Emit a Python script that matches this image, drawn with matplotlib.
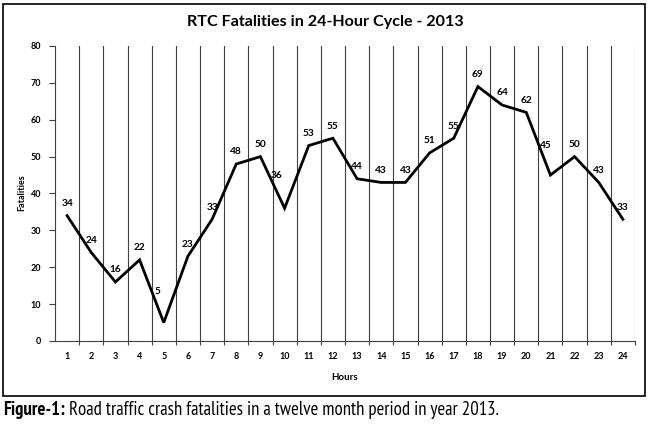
import matplotlib
matplotlib.use("Agg")
import matplotlib.pyplot as plt
from matplotlib.patches import Rectangle
import numpy as np

hours = list(range(1, 25))
fatalities = [34, 24, 16, 22, 5, 23, 33, 48, 50, 36, 53, 55, 44, 43, 43, 51, 55, 69, 64, 62, 45, 50, 43, 33]
yticks = [0, 10, 20, 30, 40, 50, 60, 70, 80]
title = "RTC Fatalities in 24-Hour Cycle - 2013"
xlabel = "Hours"
ylabel = "Fatalities"
caption_bold = "Figure-1:"
caption_text = "Road traffic crash fatalities in a twelve month period in year 2013."

# label offsets in pixels (dx, dy) for special labels
label_offsets = {5: (-6, 31), 10: (-8, 33), 21: (-5, 30)}

FONT = "Lato"
CAP_FONT = ["PT Sans Narrow", "DejaVu Sans"]
W, H = 650, 424
fig = plt.figure(figsize=(W / 100, H / 100), dpi=100)

fig.patches.append(Rectangle((3 / W, 1 - 396 / H), 642 / W, 392 / H, transform=fig.transFigure,
                             fill=False, edgecolor="black", linewidth=1.2))

ax = fig.add_axes([55 / W, 1 - 341 / H, 580 / W, 295 / H])
ax.plot(hours, fatalities, color="black", linewidth=2.0, solid_joinstyle="miter")
ax.set_xlim(0.5, 24.5)
ax.set_ylim(0, 80)
ax.set_yticks(yticks)
ax.set_xticks(hours)
ax.set_xticks(np.arange(1.5, 24.6, 1), minor=True)
for xb in np.arange(1.5, 24.6, 1):
    ax.axvline(xb, color="#404040", linewidth=0.8, zorder=0)
ax.tick_params(axis="x", which="major", length=0, pad=8)
ax.tick_params(axis="x", which="minor", length=3, color="#404040", width=0.8)
ax.tick_params(axis="y", length=4, color="#404040", width=0.8, pad=6)
for lab in ax.get_xticklabels() + ax.get_yticklabels():
    lab.set_fontfamily(FONT)
    lab.set_fontweight("bold")
    lab.set_fontsize(6.5)
for s in ["top", "right"]:
    ax.spines[s].set_visible(False)
for s in ["left", "bottom"]:
    ax.spines[s].set_color("#404040")
    ax.spines[s].set_linewidth(0.8)

for h, v in zip(hours, fatalities):
    dx, dy = label_offsets.get(h, (0, 12))
    ax.annotate(str(v), (h, v), xytext=(dx, dy), textcoords="offset pixels",
                ha="center", va="center", fontsize=7.3, fontweight="bold", fontfamily=FONT)

fig.text(325 / W, 1 - 22 / H, title, ha="center", va="center", fontsize=11.6,
         fontweight="bold", fontfamily=FONT)
fig.text(345 / W, 1 - 377 / H, xlabel, ha="center", va="center", fontsize=7,
         fontweight="bold", fontfamily=FONT)
fig.text(22 / W, 1 - 193 / H, ylabel, ha="center", va="center", rotation=90, fontsize=6.5,
         fontweight="bold", fontfamily=FONT)

# caption, fitted to the reference width (~492 px)
size = 13
t1 = fig.text(3 / W, 1 - 410 / H, caption_bold, ha="left", va="center", fontsize=size,
              fontweight="bold", family=CAP_FONT)
t2 = fig.text(0, 1 - 410 / H, caption_text, ha="left", va="center", fontsize=size, family=CAP_FONT)
for _ in range(3):
    fig.canvas.draw()
    r = fig.canvas.get_renderer()
    b1 = t1.get_window_extent(r)
    t2.set_x((b1.x1 + 4) / W)
    fig.canvas.draw()
    b2 = t2.get_window_extent(r)
    total = b2.x1 - b1.x0
    size = min(size * 492 / total, 15)
    t1.set_fontsize(size)
    t2.set_fontsize(size)
fig.canvas.draw()
b1 = t1.get_window_extent(fig.canvas.get_renderer())
t2.set_x((b1.x1 + 4) / W)

fig.savefig("out.png", dpi=100)
